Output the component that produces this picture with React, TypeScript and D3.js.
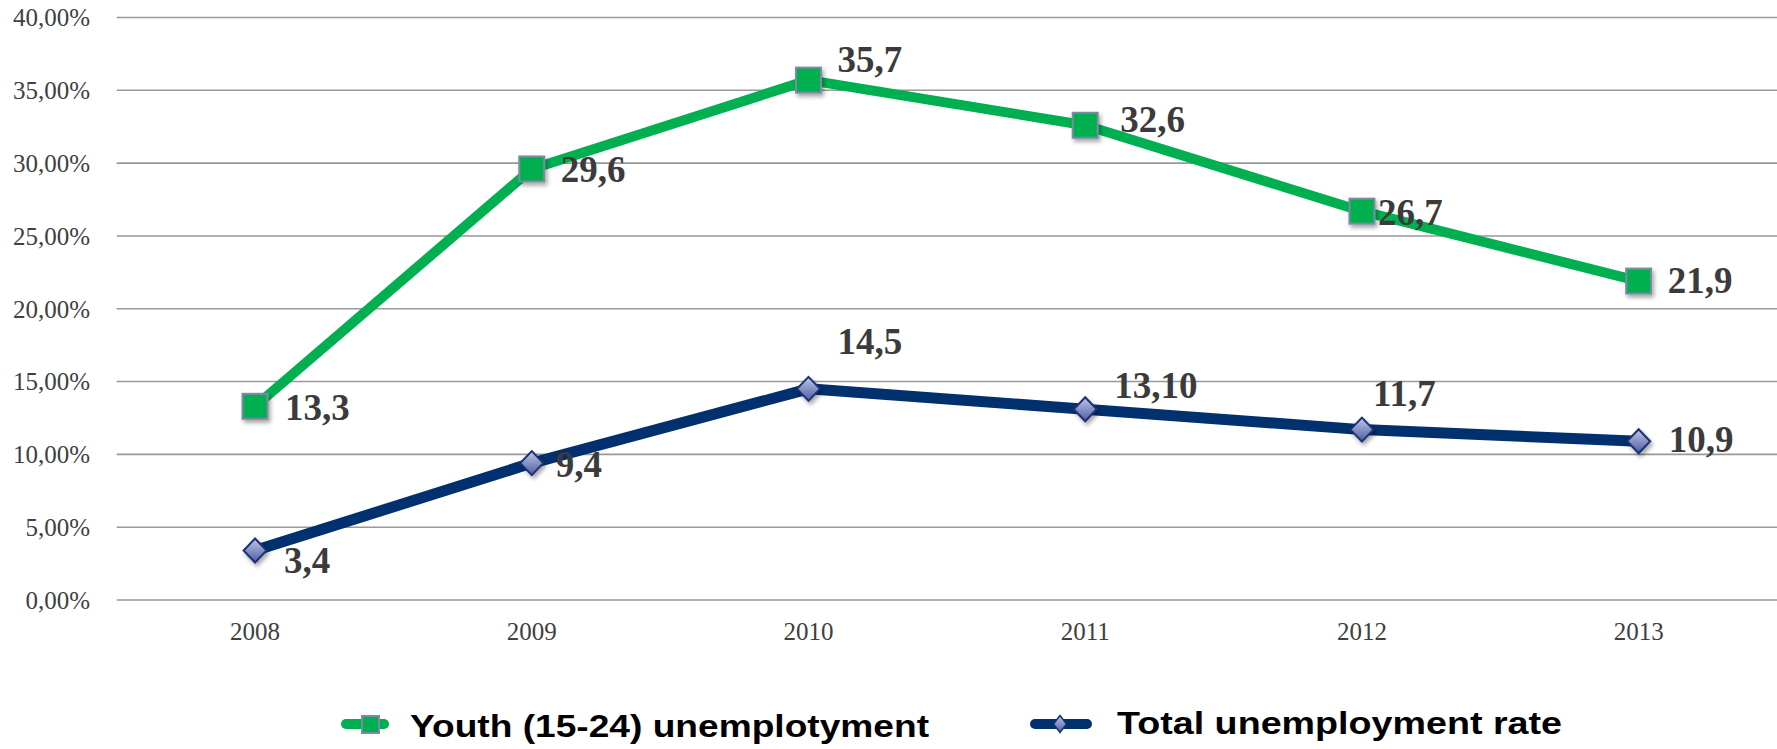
import React from "react";
import * as d3 from "d3";

const years = ["2008", "2009", "2010", "2011", "2012", "2013"];
const youthValues = [13.3, 29.6, 35.7, 32.6, 26.7, 21.9];
const totalValues = [3.4, 9.4, 14.5, 13.1, 11.7, 10.9];
const youthLabels = ["13,3", "29,6", "35,7", "32,6", "26,7", "21,9"];
const totalLabels = ["3,4", "9,4", "14,5", "13,10", "11,7", "10,9"];
const yTicks = [0, 5, 10, 15, 20, 25, 30, 35, 40];
const yTickLabels = ["0,00%", "5,00%", "10,00%", "15,00%", "20,00%", "25,00%", "30,00%", "35,00%", "40,00%"];
const youthName = "Youth (15-24) unemplotyment";
const totalName = "Total unemployment rate";

// label offsets relative to marker [dx, dy(baseline)]
const youthLabelOffsets: [number, number][] = [[30, 14], [29, 13], [29, -8], [35, 7], [16, 14], [29, 12]];
const totalLabelOffsets: [number, number][] = [[29, 23], [24, 14], [29, -35], [29, -11], [11, -24], [30, 11]];

const W = 1777;
const H = 749;
const left = 116.7;
const right = 1777;
const GREEN = "#00b050";
const NAVY = "#00306e";

export default function App() {
  const x = d3.scalePoint<string>().domain(years).range([left, right]).padding(0.5);
  const y = d3.scaleLinear().domain([0, 40]).range([600, 17.5]);
  const line = d3.line<number>().x((_, i) => x(years[i]) as number).y((d) => y(d));

  const diamond = (cx: number, cy: number, w: number, h: number) =>
    `M${cx},${cy - h / 2}L${cx + w / 2},${cy}L${cx},${cy + h / 2}L${cx - w / 2},${cy}Z`;

  return (
    <svg width={W} height={H} style={{ position: "absolute", left: 0, top: 0, background: "#fff" }}>
      <defs>
        <linearGradient id="dg" x1="0" y1="0" x2="0" y2="1">
          <stop offset="0%" stopColor="#c0c8ec" />
          <stop offset="100%" stopColor="#4d5b9e" />
        </linearGradient>
        <filter id="sh" x="-50%" y="-50%" width="200%" height="200%">
          <feDropShadow dx="2" dy="3" stdDeviation="2" floodColor="#000" floodOpacity="0.35" />
        </filter>
      </defs>
      {yTicks.map((t, i) => (
        <g key={t}>
          <line x1={left} x2={right} y1={y(t)} y2={y(t)} stroke="#999" strokeWidth={1.6} />
          <text
            x={90}
            y={y(t)}
            dy="0.35em"
            textAnchor="end"
            fontFamily="'Liberation Serif', 'Times New Roman', serif"
            fontSize={25}
            fill="#404040"
          >
            {yTickLabels[i]}
          </text>
        </g>
      ))}
      {years.map((yr) => (
        <text
          key={yr}
          x={x(yr)}
          y={640}
          textAnchor="middle"
          fontFamily="'Liberation Serif', 'Times New Roman', serif"
          fontSize={25}
          fill="#404040"
        >
          {yr}
        </text>
      ))}
      <path d={line(youthValues) || ""} fill="none" stroke={GREEN} strokeWidth={10} strokeLinejoin="round" />
      <path d={line(totalValues) || ""} fill="none" stroke={NAVY} strokeWidth={11} strokeLinejoin="round" />
      {youthValues.map((v, i) => {
        const cx = x(years[i]) as number;
        const cy = y(v);
        return (
          <rect
            key={"ys" + i}
            x={cx - 12.5}
            y={cy - 12.5}
            width={25}
            height={25}
            fill={GREEN}
            stroke="#7d8aa6"
            strokeWidth={2}
            filter="url(#sh)"
          />
        );
      })}
      {totalValues.map((v, i) => {
        const cx = x(years[i]) as number;
        const cy = y(v);
        return (
          <path
            key={"td" + i}
            d={diamond(cx, cy, 23, 24)}
            fill="url(#dg)"
            stroke="#1a3272"
            strokeWidth={2}
            filter="url(#sh)"
          />
        );
      })}
      {youthValues.map((v, i) => (
        <text
          key={"yl" + i}
          x={(x(years[i]) as number) + youthLabelOffsets[i][0]}
          y={y(v) + youthLabelOffsets[i][1]}
          fontFamily="'Liberation Serif', 'Times New Roman', serif"
          fontWeight="bold"
          fontSize={37}
          fill="#3b3b3b"
        >
          {youthLabels[i]}
        </text>
      ))}
      {totalValues.map((v, i) => (
        <text
          key={"tl" + i}
          x={(x(years[i]) as number) + totalLabelOffsets[i][0]}
          y={y(v) + totalLabelOffsets[i][1]}
          fontFamily="'Liberation Serif', 'Times New Roman', serif"
          fontWeight="bold"
          fontSize={37}
          fill="#3b3b3b"
        >
          {totalLabels[i]}
        </text>
      ))}
      {/* Legend */}
      <g>
        <line x1={346} x2={384} y1={724} y2={724} stroke={GREEN} strokeWidth={10} strokeLinecap="round" />
        <rect x={362} y={716} width={17} height={17} fill={GREEN} stroke="#7d8aa6" strokeWidth={2} />
        <text
          x={410}
          y={737}
          fontFamily="'Liberation Sans', Arial, sans-serif"
          fontWeight="bold"
          fontSize={32}
          textLength={519}
          lengthAdjust="spacingAndGlyphs"
          fill="#000"
        >
          {youthName}
        </text>
        <line x1={1035} x2={1087} y1={724} y2={724} stroke={NAVY} strokeWidth={10} strokeLinecap="round" />
        <path d={diamond(1060, 724, 13, 17)} fill="url(#dg)" stroke="#1a3272" strokeWidth={1.5} />
        <text
          x={1117}
          y={734}
          fontFamily="'Liberation Sans', Arial, sans-serif"
          fontWeight="bold"
          fontSize={32}
          textLength={445}
          lengthAdjust="spacingAndGlyphs"
          fill="#000"
        >
          {totalName}
        </text>
      </g>
    </svg>
  );
}
